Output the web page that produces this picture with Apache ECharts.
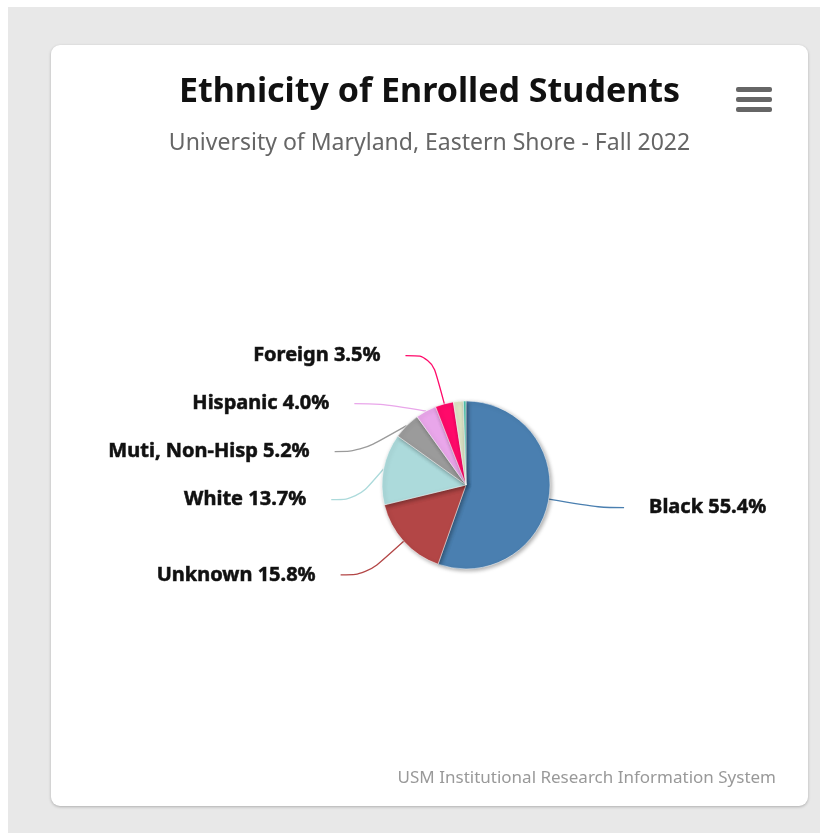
<!DOCTYPE html>
<html>
<head>
<meta charset="utf-8">
<script src="https://cdn.jsdelivr.net/npm/echarts@6/dist/echarts.min.js"></script>
<style>
  html, body { margin: 0; padding: 0; background: #ffffff; width: 820px; height: 833px; overflow: hidden; }
  #page { position: absolute; left: 8px; top: 7px; width: 812px; height: 826px; background: #e8e8e8; }
  #card { position: absolute; left: 51px; top: 45px; width: 757px; height: 761px; background: #ffffff;
          border-radius: 9px; box-shadow: 0 1px 3px rgba(0,0,0,0.25); overflow: hidden; }
  #chart { width: 757px; height: 761px; }
</style>
</head>
<body>
<div id="page"></div>
<div id="card"><div id="chart"></div></div>
<script>
// Enrollment share by ethnicity, in percent
const categories = ['Black', 'Unknown', 'White', 'Muti, Non-Hisp', 'Hispanic', 'Foreign', 'Asian', 'American Indian'];
const shares = [55.4, 15.8, 13.7, 5.2, 4.0, 3.5, 1.9, 0.5];
const sliceColors = ['#4a7fb0', '#b34646', '#acdadb', '#9b9b9b', '#e9a6ea', '#ff0a6a', '#dde4c6', '#4fc2aa'];
const labelled = [true, true, true, true, true, true, false, false];

const titleText = 'Ethnicity of Enrolled Students';
const subtitleText = 'University of Maryland, Eastern Shore - Fall 2022';
const creditText = 'USM Institutional Research Information System';

const chart = echarts.init(document.getElementById('chart'), null, { renderer: 'canvas' });

const pieData = categories.map((name, i) => ({
  name: name,
  value: shares[i],
  itemStyle: { color: sliceColors[i] },
  label: { show: labelled[i] },
  labelLine: { show: labelled[i], lineStyle: { color: sliceColors[i] } }
}));

chart.setOption({
  animation: false,
  title: [
    { text: titleText, left: 'center', top: 25,
      textStyle: { fontFamily: 'Noto Sans', fontWeight: 'bold', fontSize: 34, color: '#111111' } },
    { text: subtitleText, left: 'center', top: 82,
      textStyle: { fontFamily: 'Noto Sans', fontWeight: 'normal', fontSize: 23, color: '#666666' } }
  ],
  graphic: [
    { type: 'rect', right: 36, top: 42, shape: { width: 36, height: 5, r: 2 }, style: { fill: '#666666' } },
    { type: 'rect', right: 36, top: 52, shape: { width: 36, height: 5, r: 2 }, style: { fill: '#666666' } },
    { type: 'rect', right: 36, top: 62, shape: { width: 36, height: 5, r: 2 }, style: { fill: '#666666' } },
    { type: 'text', right: 32, top: 725,
      style: { text: creditText, fill: '#999999', fontFamily: 'Noto Sans', fontSize: 17 } }
  ],
  series: [{
    type: 'pie',
    center: [415, 440],
    radius: 84,
    startAngle: 90,
    clockwise: true,
    avoidLabelOverlap: true,
    itemStyle: {
      borderColor: '#ffffff', borderWidth: 0.5,
      shadowBlur: 4, shadowOffsetX: 1.5, shadowOffsetY: 1.5, shadowColor: 'rgba(0,0,0,0.35)'
    },
    label: {
      position: 'outside',
      formatter: p => p.name + ' ' + p.value.toFixed(1) + '%',
      fontFamily: 'Noto Sans', fontWeight: 'bold', fontSize: 20, color: '#111111',
      textBorderColor: '#333333', textBorderWidth: 0.6,
      lineHeight: 46,
      distanceToLabelLine: 25
    },
    labelLine: { length: 50, length2: 26, smooth: 0.4, lineStyle: { width: 1.3 } },
    data: pieData
  }]
});
</script>
</body>
</html>
